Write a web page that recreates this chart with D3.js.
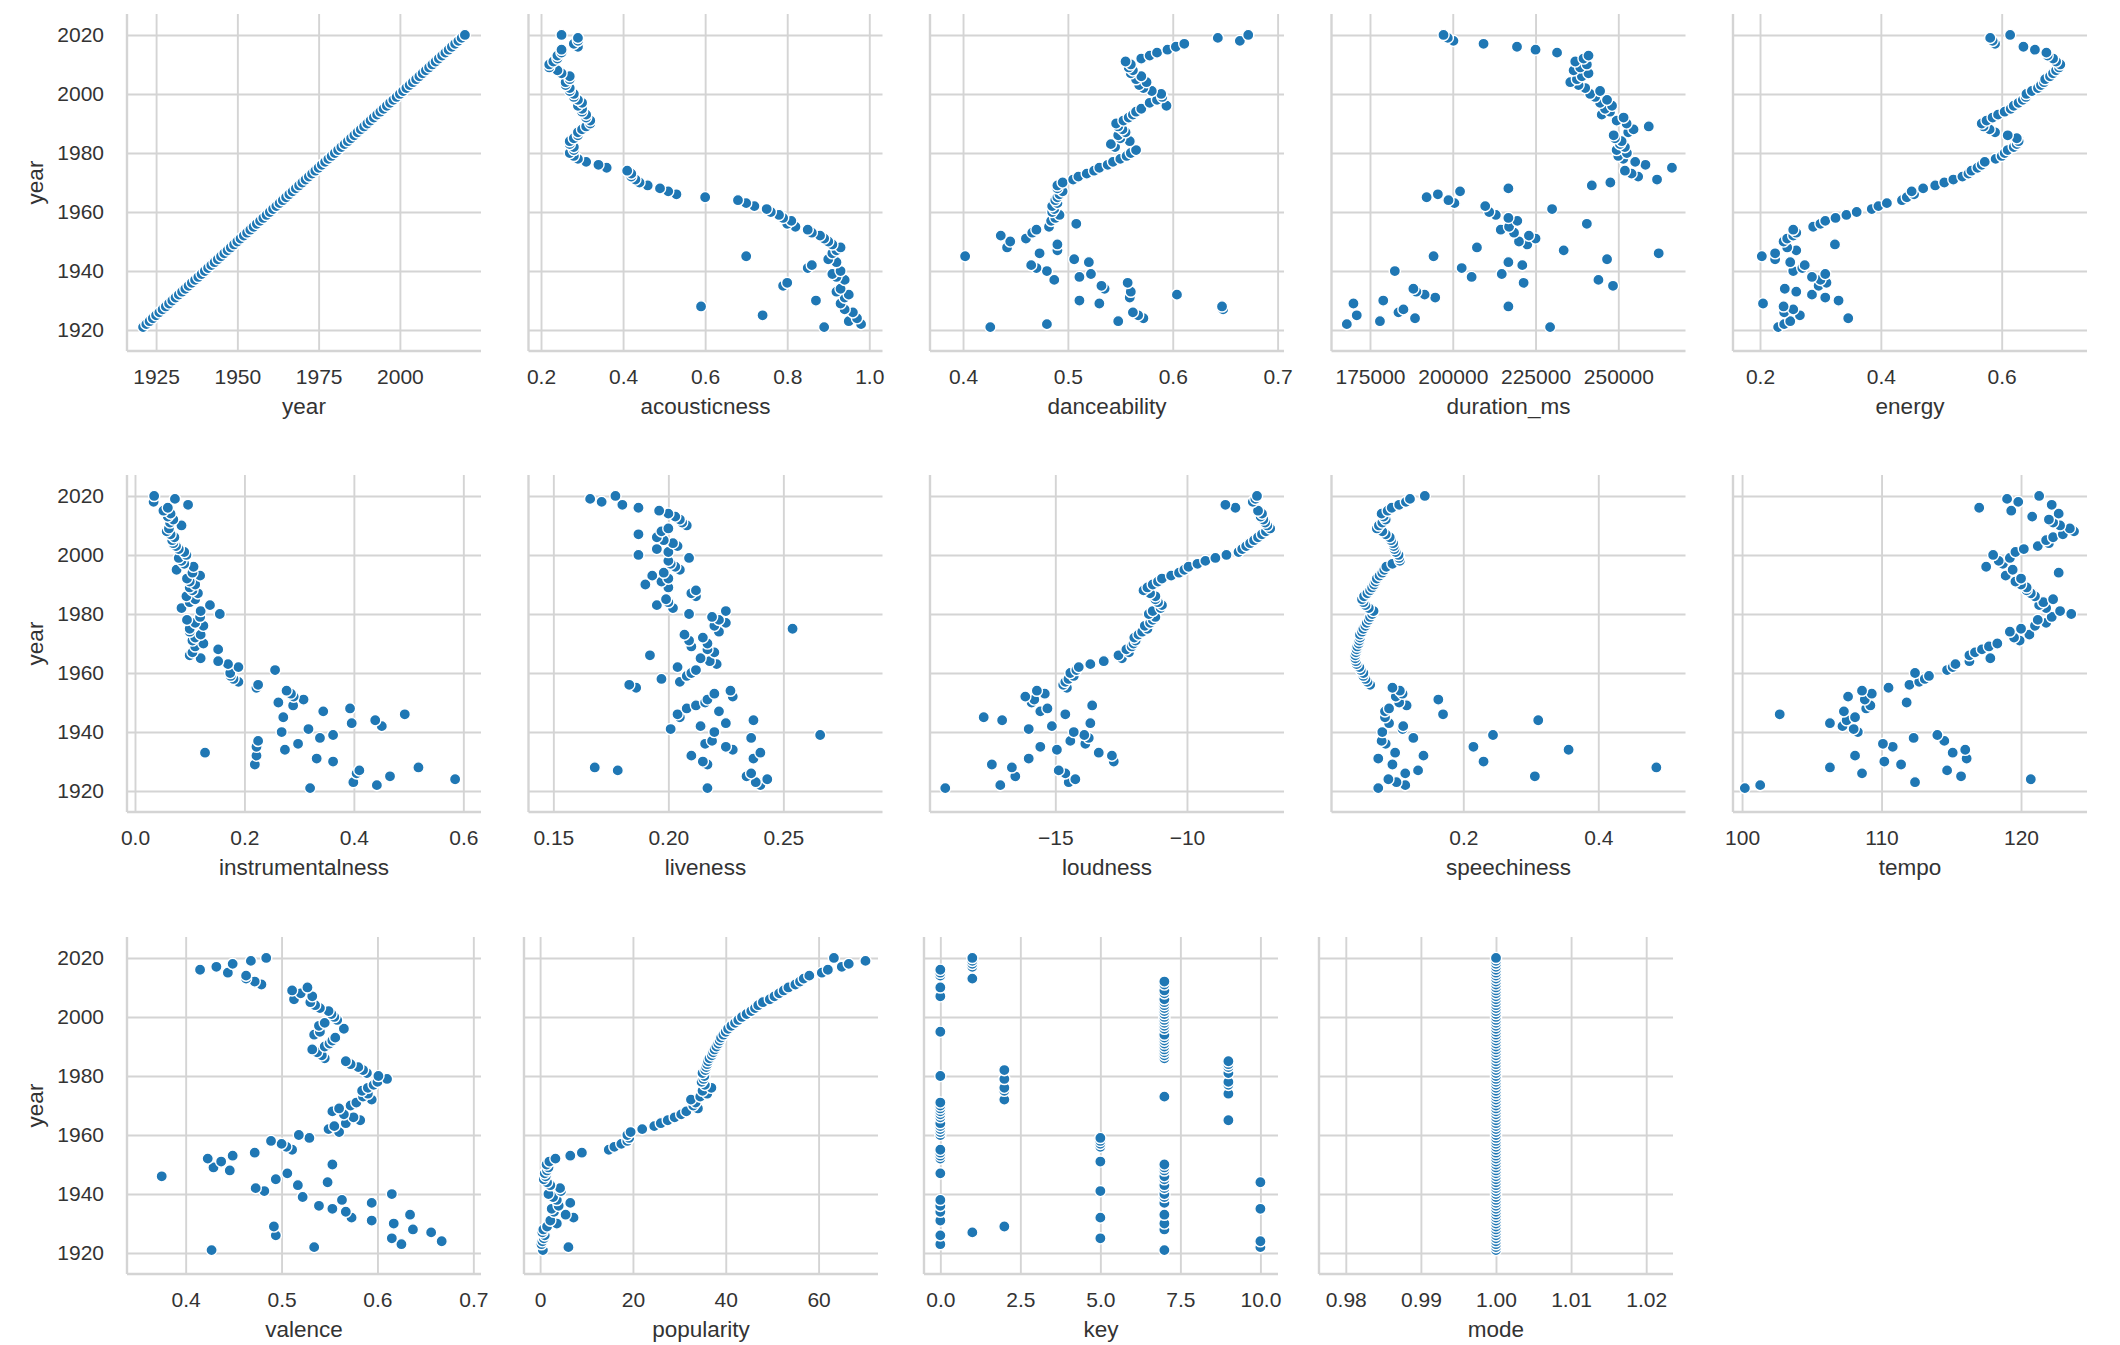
<!DOCTYPE html>
<html><head><meta charset="utf-8">
<script src="https://cdn.jsdelivr.net/npm/d3@7/dist/d3.min.js"></script>
<style>
body{margin:0;background:#fff;}
text{font-family:"Liberation Sans",Arial,sans-serif;}
</style>
</head><body>
<svg id="c" width="2120" height="1345"></svg>
<script>
// ---------------- DATA ----------------
const year = [1921,1922,1923,1924,1925,1926,1927,1928,1929,1930,
1931,1932,1933,1934,1935,1936,1937,1938,1939,1940,
1941,1942,1943,1944,1945,1946,1947,1948,1949,1950,
1951,1952,1953,1954,1955,1956,1957,1958,1959,1960,
1961,1962,1963,1964,1965,1966,1967,1968,1969,1970,
1971,1972,1973,1974,1975,1976,1977,1978,1979,1980,
1981,1982,1983,1984,1985,1986,1987,1988,1989,1990,
1991,1992,1993,1994,1995,1996,1997,1998,1999,2000,
2001,2002,2003,2004,2005,2006,2007,2008,2009,2010,
2011,2012,2013,2014,2015,2016,2017,2018,2019,2020];

const acousticness = [0.89,0.98,0.95,0.97,0.74,0.96,0.94,0.59,0.93,0.87,
0.94,0.95,0.92,0.93,0.79,0.80,0.94,0.92,0.91,0.93,
0.85,0.86,0.92,0.90,0.70,0.91,0.92,0.93,0.91,0.90,
0.89,0.88,0.86,0.85,0.82,0.80,0.81,0.79,0.78,0.76,
0.75,0.72,0.70,0.68,0.60,0.53,0.51,0.49,0.46,0.44,
0.43,0.42,0.42,0.41,0.36,0.34,0.31,0.29,0.28,0.27,
0.28,0.28,0.27,0.27,0.28,0.29,0.29,0.30,0.31,0.32,
0.32,0.31,0.31,0.30,0.30,0.29,0.30,0.29,0.28,0.28,
0.27,0.27,0.26,0.26,0.27,0.27,0.25,0.24,0.22,0.22,
0.23,0.24,0.24,0.25,0.25,0.29,0.28,0.29,0.29,0.25];

const danceability = [0.426,0.48,0.548,0.572,0.567,0.562,0.648,0.647,0.53,0.511,
0.559,0.604,0.56,0.535,0.532,0.557,0.487,0.511,0.522,0.48,
0.47,0.465,0.52,0.506,0.402,0.473,0.49,0.442,0.49,0.445,
0.46,0.436,0.466,0.47,0.482,0.508,0.484,0.488,0.492,0.485,
0.487,0.485,0.49,0.488,0.49,0.492,0.495,0.49,0.49,0.495,
0.505,0.51,0.518,0.525,0.53,0.538,0.543,0.55,0.556,0.56,
0.565,0.545,0.541,0.559,0.55,0.548,0.555,0.552,0.548,0.546,
0.553,0.558,0.562,0.565,0.57,0.594,0.578,0.585,0.59,0.589,
0.58,0.572,0.568,0.575,0.565,0.57,0.56,0.562,0.558,0.56,
0.555,0.57,0.578,0.585,0.595,0.603,0.611,0.664,0.643,0.672];

const duration_ms = [229400,168000,178000,188600,171000,183600,185100,216800,170000,179000,
194700,191500,189000,188100,248400,221400,244000,205700,214800,182500,
202700,221000,216800,246600,194200,262200,233500,207300,222500,220000,
225000,223000,218500,214500,217000,240500,219500,216800,213000,211000,
230000,209800,200500,198700,192100,195500,202200,216800,242000,247600,
261700,256000,254000,252000,266200,258200,255100,251500,250000,252600,
249500,252000,250500,251000,249000,248600,253000,254600,259200,252500,
249500,251600,245000,247500,246000,248100,244500,246600,243000,241500,
244500,240000,238000,235500,237500,239000,241000,236500,238500,240500,
237000,239500,241000,231500,225000,219400,209300,200200,198500,197200];

const energy = [0.23,0.24,0.25,0.346,0.266,0.24,0.255,0.239,0.205,0.33,
0.308,0.286,0.26,0.241,0.297,0.31,0.3,0.286,0.308,0.255,
0.27,0.274,0.25,0.225,0.203,0.225,0.26,0.245,0.324,0.239,
0.245,0.255,0.26,0.255,0.288,0.3,0.308,0.325,0.343,0.36,
0.385,0.396,0.41,0.435,0.443,0.455,0.451,0.47,0.49,0.505,
0.52,0.535,0.545,0.55,0.56,0.567,0.572,0.59,0.6,0.605,
0.61,0.62,0.625,0.628,0.625,0.61,0.589,0.58,0.57,0.567,
0.575,0.585,0.594,0.605,0.615,0.62,0.628,0.635,0.64,0.641,
0.65,0.66,0.665,0.67,0.672,0.68,0.685,0.69,0.695,0.697,
0.69,0.685,0.676,0.674,0.655,0.636,0.589,0.585,0.581,0.614];

const instrumentalness = [0.32,0.442,0.399,0.585,0.466,0.405,0.41,0.518,0.219,0.362,
0.332,0.222,0.128,0.274,0.222,0.298,0.225,0.338,0.362,0.268,
0.317,0.451,0.396,0.439,0.271,0.493,0.344,0.393,0.289,0.262,
0.308,0.29,0.285,0.277,0.222,0.225,0.189,0.18,0.175,0.174,
0.256,0.189,0.17,0.152,0.12,0.1,0.105,0.152,0.11,0.125,
0.105,0.11,0.12,0.1,0.1,0.125,0.11,0.095,0.119,0.155,
0.12,0.085,0.137,0.1,0.11,0.094,0.115,0.105,0.1,0.11,
0.1,0.095,0.119,0.105,0.076,0.107,0.09,0.085,0.08,0.094,
0.09,0.08,0.075,0.07,0.068,0.072,0.065,0.058,0.062,0.085,
0.064,0.07,0.06,0.065,0.052,0.06,0.097,0.034,0.073,0.035];

const liveness = [0.217,0.24,0.238,0.243,0.234,0.236,0.178,0.168,0.217,0.215,
0.237,0.21,0.24,0.228,0.225,0.216,0.219,0.236,0.266,0.22,
0.201,0.214,0.225,0.237,0.205,0.204,0.222,0.208,0.212,0.216,
0.217,0.228,0.22,0.227,0.186,0.183,0.205,0.197,0.208,0.21,
0.212,0.204,0.221,0.218,0.214,0.192,0.22,0.217,0.21,0.217,
0.209,0.215,0.207,0.222,0.254,0.22,0.225,0.222,0.219,0.209,
0.225,0.202,0.195,0.2,0.199,0.212,0.21,0.212,0.2,0.19,
0.197,0.2,0.193,0.198,0.205,0.203,0.201,0.2,0.209,0.187,
0.2,0.195,0.204,0.202,0.198,0.195,0.187,0.197,0.2,0.208,
0.206,0.205,0.203,0.2,0.196,0.187,0.18,0.171,0.166,0.177];

const loudness = [-19.18,-17.09,-14.49,-14.24,-16.52,-14.62,-14.87,-16.65,-17.41,-12.78,
-16.01,-12.85,-13.35,-14.94,-15.57,-13.86,-14.43,-13.73,-13.9,-14.3,
-16.01,-15.13,-13.67,-17.02,-17.72,-14.62,-15.57,-15.3,-13.6,-15.9,
-15.8,-16.14,-15.4,-15.7,-14.56,-14.7,-14.62,-14.5,-14.3,-14.43,
-14.2,-14.11,-13.67,-13.16,-12.47,-12.6,-12.2,-12.3,-12.1,-12.03,
-11.95,-12.0,-11.84,-11.7,-11.5,-11.6,-11.4,-11.3,-11.2,-11.45,
-11.3,-11.0,-10.95,-11.1,-11.2,-11.2,-11.4,-11.65,-11.5,-11.3,
-11.1,-10.95,-10.6,-10.3,-10.1,-9.94,-9.6,-9.3,-8.92,-8.5,
-8.04,-7.9,-7.75,-7.6,-7.45,-7.3,-7.15,-7.0,-6.84,-6.95,
-7.03,-7.1,-7.2,-7.15,-7.3,-8.16,-8.54,-7.5,-7.4,-7.34];

const speechiness = [0.074,0.114,0.101,0.089,0.306,0.114,0.133,0.486,0.095,0.23,
0.074,0.141,0.099,0.356,0.215,0.085,0.079,0.126,0.244,0.08,
0.11,0.111,0.09,0.311,0.084,0.17,0.084,0.09,0.116,0.105,
0.163,0.1,0.11,0.106,0.095,0.062,0.058,0.055,0.052,0.052,
0.048,0.046,0.042,0.041,0.04,0.04,0.041,0.042,0.043,0.045,
0.046,0.047,0.047,0.05,0.052,0.055,0.057,0.06,0.062,0.065,
0.067,0.06,0.055,0.052,0.05,0.053,0.058,0.062,0.065,0.068,
0.07,0.072,0.076,0.08,0.083,0.086,0.095,0.106,0.105,0.104,
0.1,0.098,0.097,0.096,0.093,0.091,0.085,0.08,0.072,0.075,
0.08,0.085,0.082,0.079,0.088,0.094,0.105,0.115,0.121,0.143];

const tempo = [100.2,101.3,112.4,120.7,115.7,108.6,114.7,106.3,111.4,110.2,
116.1,108.1,115.1,116.0,110.8,110.1,114.5,112.3,114.0,108.3,
108.0,107.2,106.3,107.5,108.1,102.7,107.3,108.9,109.2,111.8,
108.8,107.6,109.3,108.6,110.5,112.0,112.7,113.1,113.4,112.4,
114.7,115.1,115.3,116.3,117.8,116.3,116.7,117.2,117.7,118.3,
119.9,119.5,120.6,119.2,120.0,121.0,121.8,121.2,122.2,123.6,
122.8,121.8,121.3,121.6,122.3,121.0,120.7,120.4,120.4,120.0,
119.6,120.0,118.9,122.7,119.4,117.5,118.7,118.4,119.2,118.0,
119.6,120.2,121.2,122.0,121.8,122.3,123.0,123.8,123.5,122.8,
122.3,122.0,120.8,122.7,119.3,117.0,122.2,119.8,119.0,121.3];

const valence = [0.427,0.534,0.625,0.667,0.615,0.494,0.656,0.637,0.492,0.617,
0.594,0.573,0.634,0.567,0.553,0.539,0.594,0.563,0.522,0.615,
0.482,0.473,0.517,0.548,0.494,0.375,0.506,0.446,0.429,0.553,
0.437,0.423,0.449,0.472,0.511,0.505,0.5,0.489,0.529,0.518,
0.56,0.549,0.555,0.567,0.582,0.575,0.565,0.553,0.56,0.572,
0.578,0.594,0.585,0.59,0.584,0.59,0.596,0.6,0.61,0.601,
0.589,0.585,0.58,0.572,0.567,0.545,0.542,0.537,0.532,0.545,
0.55,0.553,0.556,0.534,0.54,0.565,0.539,0.545,0.558,0.555,
0.552,0.549,0.54,0.535,0.53,0.513,0.532,0.52,0.511,0.527,
0.479,0.472,0.463,0.463,0.444,0.415,0.432,0.449,0.468,0.484];

const popularity = [0.6,6.1,0.3,0.5,0.8,1.0,0.5,0.7,1.5,3.6,
2.2,7.2,5.5,3.0,2.5,4.0,6.5,3.6,2.8,1.8,
4.5,4.3,2.2,1.5,0.8,1.2,1.0,1.5,1.8,1.4,
2.0,3.3,6.5,9.0,14.8,16.0,17.5,18.8,19.2,18.8,
19.5,22.0,24.6,26.0,27.5,29.0,30.4,31.5,34.0,33.0,
33.5,32.5,34.5,36.0,35.0,36.9,35.5,34.8,35.2,35.4,
35.0,35.6,35.8,36.0,36.2,36.5,37.0,37.3,37.6,38.0,
38.4,38.7,39.0,39.5,40.0,40.5,41.2,42.0,42.7,43.5,
44.5,45.5,46.3,47.0,48.0,49.5,50.5,51.5,52.5,53.5,
55.0,56.0,56.8,58.0,60.7,62.0,65.0,66.5,70.1,63.3];

const key = [7,10,0,10,5,0,1,7,2,7,
0,5,7,0,10,0,7,0,7,7,
5,7,7,10,7,7,0,7,7,7,
5,0,0,0,0,5,5,5,5,0,
0,0,0,0,9,0,0,0,0,0,
0,2,7,9,2,2,9,9,2,0,
9,2,9,9,9,7,7,7,7,7,
7,7,7,7,0,7,7,7,7,7,
7,7,7,7,7,7,0,7,7,0,
7,7,1,0,0,0,1,1,1,1];

const mode = [1,1,1,1,1,1,1,1,1,1,
1,1,1,1,1,1,1,1,1,1,
1,1,1,1,1,1,1,1,1,1,
1,1,1,1,1,1,1,1,1,1,
1,1,1,1,1,1,1,1,1,1,
1,1,1,1,1,1,1,1,1,1,
1,1,1,1,1,1,1,1,1,1,
1,1,1,1,1,1,1,1,1,1,
1,1,1,1,1,1,1,1,1,1,
1,1,1,1,1,1,1,1,1,1];

const yearTicks = [1920,1940,1960,1980,2000,2020];

// ---------------- PANELS ----------------
const panels = [
  {label:"year", vals:year, dom:[1916.05,2024.95], ticks:[1925,1950,1975,2000], fmt:"d"},
  {label:"acousticness", vals:acousticness, dom:[0.1695,1.0322], ticks:[0.2,0.4,0.6,0.8,1.0], fmt:".1f"},
  {label:"danceability", vals:danceability, dom:[0.3685,0.7061], ticks:[0.4,0.5,0.6,0.7], fmt:".1f"},
  {label:"duration_ms", vals:duration_ms, dom:[163371,270297], ticks:[175000,200000,225000,250000], fmt:"d"},
  {label:"energy", vals:energy, dom:[0.1553,0.7412], ticks:[0.2,0.4,0.6], fmt:".1f"},
  {label:"instrumentalness", vals:instrumentalness, dom:[-0.0146,0.6323], ticks:[0.0,0.2,0.4,0.6], fmt:".1f"},
  {label:"liveness", vals:liveness, dom:[0.1392,0.2931], ticks:[0.15,0.20,0.25], fmt:".2f"},
  {label:"loudness", vals:loudness, dom:[-19.76,-6.314], ticks:[-15,-10], fmt:"d"},
  {label:"speechiness", vals:speechiness, dom:[0.00474,0.5292], ticks:[0.2,0.4], fmt:".1f"},
  {label:"tempo", vals:tempo, dom:[99.35,124.73], ticks:[100,110,120], fmt:"d"},
  {label:"valence", vals:valence, dom:[0.3388,0.708], ticks:[0.4,0.5,0.6,0.7], fmt:".1f"},
  {label:"popularity", vals:popularity, dom:[-3.47,72.8], ticks:[0,20,40,60], fmt:"d"},
  {label:"key", vals:key, dom:[-0.51,10.55], ticks:[0,2.5,5,7.5,10], fmt:".1f"},
  {label:"mode", vals:mode, dom:[0.97643,1.02357], ticks:[0.98,0.99,1.00,1.01,1.02], fmt:".2f"}
];

// ---------------- LAYOUT ----------------
const rows = [
  {top:14,  lefts:[127,528.5,930,1331.5,1733]},
  {top:475, lefts:[127,528.5,930,1331.5,1733]},
  {top:937, lefts:[127,524,924,1319]}
];
const PW = 354, PH = 337;
const yDom = [1912.9, 2027.1];
const GRID = "#d4d4d4", TXT = "#333333", DOT = "#1f77b4";

const svg = d3.select("#c");
svg.append("rect").attr("width",2120).attr("height",1345).attr("fill","#fff");

panels.forEach((p,i)=>{
  const r = Math.floor(i/5), c = i%5;
  const left = rows[r].lefts[c], top = rows[r].top;
  const g = svg.append("g").attr("transform",`translate(${left},${top})`);
  const x = d3.scaleLinear().domain(p.dom).range([0,PW]);
  const y = d3.scaleLinear().domain(yDom).range([PH,0]);

  // x grid + labels
  const xa = g.append("g").attr("transform",`translate(0,${PH})`)
    .call(d3.axisBottom(x).tickValues(p.ticks).tickFormat(d3.format(p.fmt))
      .tickSize(-PH).tickSizeOuter(0).tickPadding(18));
  xa.select(".domain").remove();
  xa.selectAll("line").attr("stroke",GRID).attr("stroke-width",1.9);
  xa.selectAll("text").attr("fill",TXT).style("font-size","21px");

  // y grid + labels
  const ya = g.append("g")
    .call(d3.axisLeft(y).tickValues(yearTicks).tickFormat(d3.format("d"))
      .tickSize(-PW).tickSizeOuter(0).tickPadding(23));
  ya.select(".domain").remove();
  ya.selectAll("line").attr("stroke",GRID).attr("stroke-width",1.9);
  ya.selectAll("text").attr("fill",TXT).style("font-size","21px");
  if (c !== 0) ya.selectAll("text").remove();

  // spines (left & bottom)
  g.append("line").attr("x1",0).attr("x2",0).attr("y1",0).attr("y2",PH)
    .attr("stroke",GRID).attr("stroke-width",2.4);
  g.append("line").attr("x1",0).attr("x2",PW).attr("y1",PH).attr("y2",PH)
    .attr("stroke",GRID).attr("stroke-width",2.4);

  // points
  g.append("g").selectAll("circle").data(p.vals.map((v,k)=>[v,year[k]])).join("circle")
    .attr("cx",d=>x(d[0])).attr("cy",d=>y(d[1])).attr("r",5.6)
    .attr("fill",DOT).attr("stroke","#fff").attr("stroke-width",1.4);

  // x label
  g.append("text").attr("x",PW/2).attr("y",PH+63).attr("text-anchor","middle")
    .attr("fill",TXT).style("font-size","22.5px").text(p.label);

  // y label
  if (c === 0) {
    svg.append("text").attr("transform",`translate(43,${top+PH/2}) rotate(-90)`)
      .attr("text-anchor","middle").attr("fill",TXT).style("font-size","22.5px").text("year");
  }
});
</script>
</body></html>
